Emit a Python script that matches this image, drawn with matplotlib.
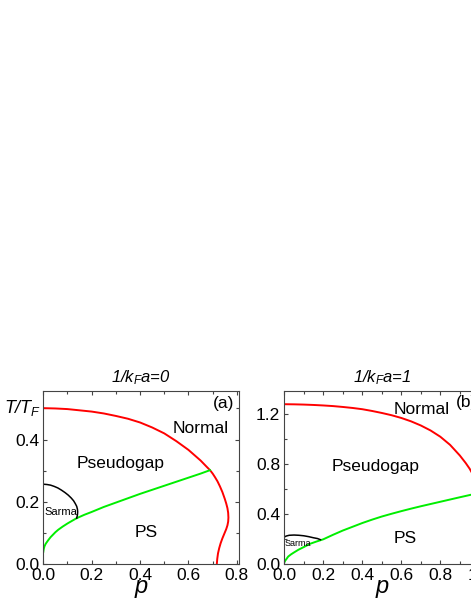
import numpy as np
import matplotlib
matplotlib.use("Agg")
import matplotlib.pyplot as plt
from matplotlib.ticker import MultipleLocator, FormatStrFormatter
import matplotlib.transforms as mtransforms

plt.rcParams['font.family'] = ['Liberation Sans', 'DejaVu Sans']
plt.rcParams['mathtext.fontset'] = 'custom'
plt.rcParams['mathtext.rm'] = 'Liberation Sans:italic'
plt.rcParams['mathtext.it'] = 'Liberation Sans:italic'

# (a) 1/kFa = 0
p_normal_a = [0, 0.05, 0.1, 0.15, 0.2, 0.25, 0.3, 0.35, 0.4, 0.45, 0.5, 0.55, 0.6, 0.65, 0.675,
              0.689, 0.70, 0.71, 0.72, 0.73, 0.74, 0.75, 0.756, 0.761, 0.764, 0.765, 0.764,
              0.761, 0.756, 0.748, 0.74, 0.733, 0.727, 0.722, 0.719, 0.717]
T_normal_a = [0.501, 0.5, 0.498, 0.494, 0.49, 0.484, 0.476, 0.467, 0.455, 0.439, 0.42, 0.395, 0.367, 0.333, 0.313,
              0.302, 0.291, 0.279, 0.266, 0.25, 0.232, 0.21, 0.195, 0.18, 0.165, 0.15, 0.137,
              0.125, 0.113, 0.098, 0.083, 0.068, 0.052, 0.035, 0.018, 0.0]
p_ps_a = [0, 0.002, 0.005, 0.01, 0.02, 0.03, 0.04, 0.05, 0.062, 0.08, 0.1, 0.12, 0.138, 0.17, 0.2,
          0.25, 0.3, 0.35, 0.4, 0.45, 0.5, 0.55, 0.6, 0.65, 0.689]
T_ps_a = [0.04, 0.05, 0.058, 0.066, 0.077, 0.087, 0.095, 0.103, 0.111, 0.121, 0.131, 0.14, 0.148, 0.159, 0.168,
          0.184, 0.198, 0.212, 0.226, 0.239, 0.252, 0.265, 0.278, 0.291, 0.302]
p_sarma_a = [0, 0.015, 0.03, 0.045, 0.06, 0.075, 0.09, 0.103, 0.115, 0.125, 0.132, 0.138, 0.141, 0.142, 0.141, 0.138]
T_sarma_a = [0.257, 0.256, 0.254, 0.25, 0.245, 0.238, 0.23, 0.222, 0.213, 0.204, 0.195, 0.186, 0.177, 0.168, 0.158, 0.148]

# (b) 1/kFa = 1
p_normal_b = [0, 0.05, 0.1, 0.15, 0.2, 0.25, 0.3, 0.35, 0.4, 0.45, 0.5, 0.55, 0.6, 0.65, 0.7, 0.75,
              0.8, 0.85, 0.9, 0.93, 0.95, 0.97, 0.985]
T_normal_b = [1.28, 1.279, 1.277, 1.274, 1.27, 1.265, 1.258, 1.25, 1.24, 1.226, 1.21, 1.192, 1.17, 1.143, 1.11, 1.07,
              1.02, 0.955, 0.87, 0.81, 0.765, 0.71, 0.66]
p_ps_b = [0, 0.005, 0.01, 0.02, 0.035, 0.05, 0.072, 0.1, 0.132, 0.165, 0.2, 0.25, 0.3, 0.35, 0.4, 0.45,
          0.5, 0.55, 0.6, 0.65, 0.7, 0.75, 0.8, 0.85, 0.9, 0.96, 1.0]
T_ps_b = [0.015, 0.03, 0.04, 0.062, 0.08, 0.095, 0.116, 0.138, 0.164, 0.182, 0.2, 0.236, 0.27, 0.3, 0.33, 0.357,
          0.382, 0.404, 0.425, 0.445, 0.464, 0.482, 0.5, 0.518, 0.536, 0.557, 0.571]
p_sarma_b = [0, 0.01, 0.025, 0.05, 0.075, 0.1, 0.125, 0.15, 0.17, 0.185]
T_sarma_b = [0.218, 0.226, 0.232, 0.234, 0.232, 0.228, 0.221, 0.212, 0.206, 0.197]

fig = plt.figure(figsize=(4.71, 6.09), dpi=100)
ax1 = fig.add_axes([43.3/471, 44.7/609, 196/471, 173.6/609])
ax2 = fig.add_axes([284.3/471, 44.7/609, 196/471, 173.6/609])


def style_axes(ax, xmaj, xmin, ymaj, ymin):
    ax.xaxis.set_major_locator(MultipleLocator(xmaj))
    ax.xaxis.set_minor_locator(MultipleLocator(xmin))
    ax.yaxis.set_major_locator(MultipleLocator(ymaj))
    ax.yaxis.set_minor_locator(MultipleLocator(ymin))
    ax.tick_params(which='both', direction='in', top=True, right=True, width=0.8, color='#444444',
                   labelsize=12.5, pad=3)
    ax.tick_params(which='major', length=3)
    ax.tick_params(which='minor', length=2)
    for s in ax.spines.values():
        s.set_color('#444444')
        s.set_linewidth(0.8)
    ax.xaxis.set_major_formatter(FormatStrFormatter('%.1f'))
    ax.yaxis.set_major_formatter(FormatStrFormatter('%.1f'))
    ax.set_xlabel('$p$', fontsize=17, labelpad=-4)


# panel (a)
ax1.plot(p_normal_a, T_normal_a, color='#ff0000', lw=1.4)
ax1.plot(p_ps_a, T_ps_a, color='#00ee00', lw=1.4)
ax1.plot(p_sarma_a, T_sarma_a, color='black', lw=1.1)
ax1.set_xlim(0, 0.81)
ax1.set_ylim(0, 0.557)
style_axes(ax1, 0.2, 0.1, 0.2, 0.1)
ax1.set_yticks([0.0, 0.2, 0.4])
ax1.set_title('$1/k_F a$=0', fontsize=12, style='italic', pad=6)
trans = mtransforms.blended_transform_factory(ax1.transAxes, ax1.transData)
ax1.text(-0.01, 0.5, '$T/T_F$', transform=trans, ha='right', va='center', fontsize=13)
ax1.text(0.651, 0.437, 'Normal', ha='center', va='center', fontsize=12.5)
ax1.text(0.32, 0.324, 'Pseudogap', ha='center', va='center', fontsize=12.5)
ax1.text(0.427, 0.101, 'PS', ha='center', va='center', fontsize=12.5)
ax1.text(0.745, 0.515, '(a)', ha='center', va='center', fontsize=12.5)
ax1.text(0.003, 0.169, 'Sarma', ha='left', va='center', fontsize=8)

# panel (b)
ax2.plot(p_normal_b, T_normal_b, color='#ff0000', lw=1.4)
ax2.plot(p_ps_b, T_ps_b, color='#00ee00', lw=1.4)
ax2.plot(p_sarma_b, T_sarma_b, color='black', lw=1.1)
ax2.set_xlim(0, 1.005)
ax2.set_ylim(0, 1.388)
style_axes(ax2, 0.2, 0.1, 0.4, 0.2)
ax2.set_title('$1/k_F a$=1', fontsize=12, style='italic', pad=6)
ax2.text(0.705, 1.24, 'Normal', ha='center', va='center', fontsize=12.5)
ax2.text(0.88, 1.29, '(b)', ha='left', va='center', fontsize=12.5)
ax2.text(0.47, 0.78, 'Pseudogap', ha='center', va='center', fontsize=12.5)
ax2.text(0.62, 0.205, 'PS', ha='center', va='center', fontsize=12.5)
ax2.text(0.003, 0.164, 'Sarma', ha='left', va='center', fontsize=6.5)

fig.savefig('out.png', dpi=100)
